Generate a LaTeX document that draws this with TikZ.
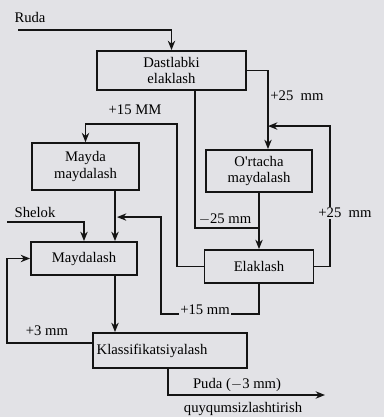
\documentclass[tikz,border=0pt]{standalone}
\usepackage{fontspec}
\setmainfont{Liberation Serif}
\usetikzlibrary{calc,arrows.meta}
\definecolor{paper}{RGB}{226,226,230}
\definecolor{ink}{RGB}{20,20,20}
\tikzset{
  box/.style={draw=ink, line width=1.4pt, fill=paper, align=center, inner sep=0pt, text=black, font=\fontsize{11}{12}\selectfont},
  wire/.style={draw=ink, line width=1.4pt},
  arr/.style={wire, -{Stealth[length=7pt,width=5.5pt]}},
  lbl/.style={text=black, inner sep=1pt, font=\fontsize{11}{12}\selectfont},
  lblf/.style={lbl, fill=paper}
}
\begin{document}
\begin{tikzpicture}[x=0.75pt,y=-0.75pt]
\fill[paper] (0,0) rectangle (384,417);
\useasboundingbox (0,0) rectangle (384,417);
% boxes
\node[box, minimum width=111.75pt, minimum height=29.25pt] (dast) at (171.5,70.5) {Dastlabki\\elaklash};
\node[box, minimum width=80.25pt, minimum height=35pt, font=\fontsize{11}{12.5}\selectfont] (mayda) at (85.5,166.5) {Mayda\\maydalash};
\node[box, minimum width=79.5pt, minimum height=31.5pt] (orta) at (259,171) {O\textquotesingle rtacha\\maydalash};
\node[box, minimum width=79.5pt, minimum height=24.75pt] (mayd) at (84,258.5) {Maydalash};
\node[box, minimum width=81.75pt, minimum height=24.75pt] (elak) at (259,266.5) {Elaklash};
\node[box, minimum width=115.5pt, minimum height=26.25pt, text width=110pt, align=left] (klass) at (170,350.5) {Klassifikatsiyalash};
% labels
\node[lbl] (lruda) at (30,17) {Ruda};
\node[lbl] (lshelok) at (35,212) {Shelok};
\node[lbl] (l15a) at (135,110) {+15 MM};
\node[lbl] (lm25) at (225,219) {$-$25 mm};
\node[lbl] (lp3) at (47,331) {+3 mm};
\node[lbl] (lpuda) at (237,385) {Puda ($-$3 mm)};
\node[lbl] (lquy) at (243,409) {quyqumsizlashtirish};
% coordinates
\coordinate (rs) at (18,30);
\coordinate (ss) at (7,222);
\coordinate (pe) at (325,395);
% Ruda -> Dastlabki
\draw[arr] (rs) -| (dast.north);
% Dastlabki -> O'rtacha (+25)
\draw[arr] (dast.east) -| ($(orta.north)+(9,0)$);
% return +25 from Elaklash
\draw[arr] (elak.east) -| ($(orta.north)+(71,-23)$) -- ($(orta.north)+(9,-23)$);
% Dastlabki bottom -25 to Elaklash
\draw[wire] ($(dast.south)+(23.5,0)$) |- ($(elak.north)+(0,-21)$);
\draw[arr] (orta.south) -- (elak.north);
% Elaklash left -> +15 MM -> Mayda
\draw[arr] (elak.west) -| ($(mayda.north)+(91.5,-18)$) -| (mayda.north);
% Mayda -> Maydalash
\draw[arr] ($(mayda.south)+(29.5,0)$) -- ($(mayd.north)+(31,0)$);
% Elaklash bottom +15 -> back to Maydalash
\draw[arr] (elak.south) |- ($(elak.south)+(-98,30)$) |- ($(mayd.north)+(33,-24)$);
% Shelok
\draw[arr] (ss) -| (mayd.north);
% Maydalash -> Klass
\draw[arr] ($(mayd.south)+(31,0)$) -- ($(klass.north)+(-55,0)$);
% +3 mm return
\draw[arr] ($(klass.west)+(0,-7.5)$) -| ($(mayd.west)+(-23,0)$) -- (mayd.west);
% product
\draw[arr] ($(klass.south)+(-2,0)$) |- (pe);
% labels on lines
\node[lblf] (l25a) at (297,96) {+25\,\,\,mm};
\node[lblf] (l25b) at (345,213) {+25\,\,\,mm};
\node[lblf] (l15b) at (205,310) {+15 mm};
\end{tikzpicture}
\end{document}
